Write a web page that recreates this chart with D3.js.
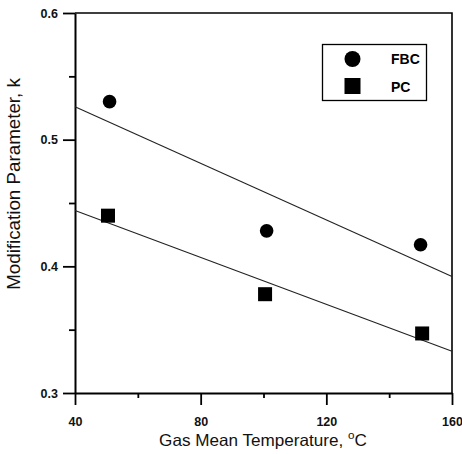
<!DOCTYPE html>
<html><head><meta charset="utf-8">
<script src="https://cdn.jsdelivr.net/npm/d3@7"></script>
<style>body{margin:0;background:#fff}svg{display:block}</style>
</head><body>
<script>
const seriesNames = ["FBC", "PC"];
const fbcTemp = [51, 101, 150];
const fbcK = [0.530, 0.428, 0.417];
const pcTemp = [50.5, 100.5, 150.5];
const pcK = [0.440, 0.378, 0.347];
// fitted lines read at the plot edges
const fitTemp = [40, 160];
const fbcFitK = [0.526, 0.392];
const pcFitK = [0.444, 0.333];
const xMajor = [40, 80, 120, 160];
const xMinor = [60, 100, 140];
const yMajor = [0.3, 0.4, 0.5, 0.6];
const yMinor = [0.35, 0.45, 0.55];

const W = 462, H = 454;
const svg = d3.select("body").append("svg").attr("width", W).attr("height", H);
const x = d3.scaleLinear().domain([40, 160]).range([75, 452]);
const y = d3.scaleLinear().domain([0.3, 0.6]).range([393, 13]);
const font = "Arial, 'Liberation Sans', sans-serif";

// frame top/right
svg.append("path").attr("d", `M${x(40)},${y(0.6)}H${x(160)}V${y(0.3)}`)
  .attr("fill", "none").attr("stroke", "#000").attr("stroke-width", 1.6);

function styleAxis(g) {
  g.select(".domain").attr("stroke-width", 2);
  g.selectAll(".tick line").attr("stroke-width", 1.8);
  g.selectAll("text").attr("font-family", font).attr("font-size", 12.5).attr("font-weight", "bold").attr("fill", "#111");
}
// x axis
const gxMin = svg.append("g").attr("transform", `translate(0,${y(0.3)})`)
  .call(d3.axisBottom(x).tickValues(xMinor).tickSize(5).tickFormat(""));
gxMin.select(".domain").remove();
gxMin.selectAll(".tick line").attr("stroke-width", 1.8);
const gx = svg.append("g").attr("transform", `translate(0,${y(0.3)})`)
  .call(d3.axisBottom(x).tickValues(xMajor).tickSize(12).tickSizeOuter(0).tickPadding(12).tickFormat(d3.format("d")));
styleAxis(gx);
// y axis
const gyMin = svg.append("g").attr("transform", `translate(${x(40)},0)`)
  .call(d3.axisLeft(y).tickValues(yMinor).tickSize(6).tickFormat(""));
gyMin.select(".domain").remove();
gyMin.selectAll(".tick line").attr("stroke-width", 1.8);
const gy = svg.append("g").attr("transform", `translate(${x(40)},0)`)
  .call(d3.axisLeft(y).tickValues(yMajor).tickSize(12).tickSizeOuter(0).tickPadding(5).tickFormat(d3.format(".1f")));
styleAxis(gy);

// fit lines
const line = d3.line().x(d => x(d[0])).y(d => y(d[1]));
[fbcFitK, pcFitK].forEach(k => {
  svg.append("path").attr("d", line(fitTemp.map((t, i) => [t, k[i]])))
    .attr("fill", "none").attr("stroke", "#222").attr("stroke-width", 1.1);
});

// points
svg.append("g").selectAll("circle").data(fbcTemp.map((t, i) => [t, fbcK[i]])).join("circle")
  .attr("cx", d => x(d[0])).attr("cy", d => y(d[1])).attr("r", 6.8).attr("fill", "#000");
svg.append("g").selectAll("rect").data(pcTemp.map((t, i) => [t, pcK[i]])).join("rect")
  .attr("x", d => x(d[0]) - 7).attr("y", d => y(d[1]) - 7).attr("width", 14).attr("height", 14).attr("fill", "#000");

// legend
const lg = svg.append("g");
lg.append("rect").attr("x", 322.5).attr("y", 44.5).attr("width", 104).attr("height", 56)
  .attr("fill", "#fff").attr("stroke", "#000").attr("stroke-width", 1.3);
lg.append("circle").attr("cx", 352.5).attr("cy", 59).attr("r", 8).attr("fill", "#000");
lg.append("rect").attr("x", 344.5).attr("y", 78).attr("width", 16).attr("height", 16).attr("fill", "#000");
lg.selectAll("text").data(seriesNames).join("text")
  .attr("x", 391).attr("y", (d, i) => 64 + i * 28)
  .attr("font-family", font).attr("font-size", 14).attr("font-weight", "bold").text(d => d);

// axis titles
function fitWidth(t, target, base) {
  const w = t.node().getComputedTextLength();
  return base * target / w;
}
const xt = svg.append("text").attr("x", 263).attr("y", 446).attr("text-anchor", "middle")
  .attr("font-family", font).attr("font-size", 16).attr("fill", "#111");
xt.append("tspan").text("Gas Mean Temperature, ");
const sup = xt.append("tspan").attr("font-size", 11).attr("dy", -7).text("o");
xt.append("tspan").attr("dy", 7).text("C");
const fx = fitWidth(xt, 208, 16);
xt.attr("font-size", fx); sup.attr("font-size", fx * 0.68);

const yt = svg.append("text").attr("transform", "translate(20,184) rotate(-90)").attr("text-anchor", "middle")
  .attr("font-family", font).attr("font-size", 16).attr("fill", "#111").text("Modification Parameter, k");
yt.attr("font-size", fitWidth(yt, 212, 16));
</script>
</body></html>
